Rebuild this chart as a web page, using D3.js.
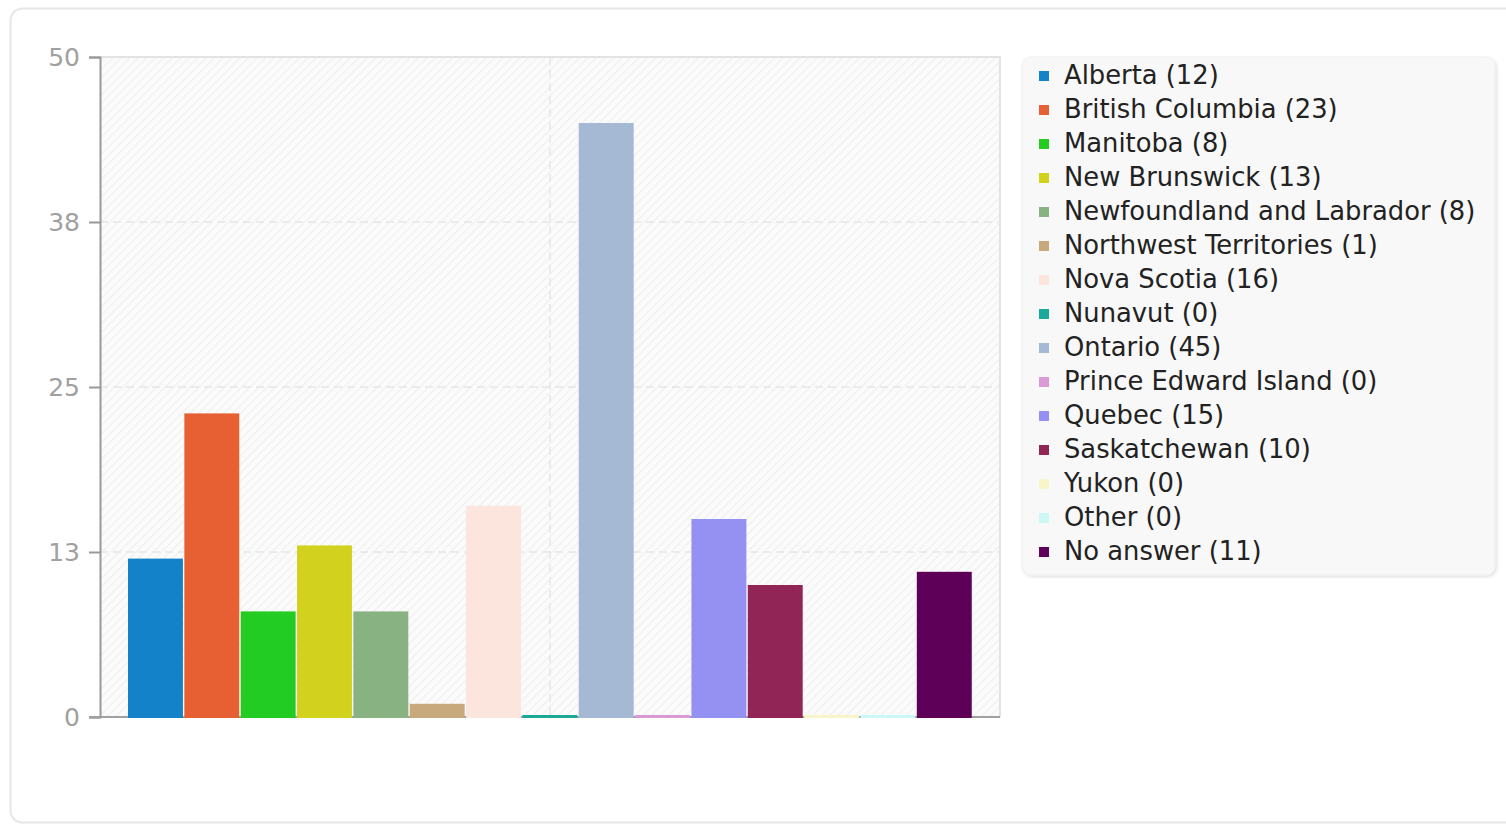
<!DOCTYPE html>
<html>
<head>
<meta charset="utf-8">
<script src="https://cdn.jsdelivr.net/npm/d3@7"></script>
<style>
  html, body { margin: 0; padding: 0; background: #ffffff; }
  svg { display: block; font-family: "DejaVu Sans", Verdana, sans-serif; }
</style>
</head>
<body>
<svg id="chart" width="1506" height="825"></svg>
<script>
const categories = ["Alberta", "British Columbia", "Manitoba", "New Brunswick", "Newfoundland and Labrador",
  "Northwest Territories", "Nova Scotia", "Nunavut", "Ontario", "Prince Edward Island", "Quebec",
  "Saskatchewan", "Yukon", "Other", "No answer"];
const values = [12, 23, 8, 13, 8, 1, 16, 0, 45, 0, 15, 10, 0, 0, 11];
const colors = ["#1482c8", "#e66034", "#22cc22", "#d2d21e", "#88b282", "#c8a97e", "#fbe5dc", "#1aa89a",
  "#a6b9d4", "#d99ad6", "#9591f2", "#912656", "#f8f5c8", "#ccf7f7", "#5e0058"];
const yTicks = [0, 12.5, 25, 37.5, 50];
const yTickLabels = ["0", "13", "25", "38", "50"];

const svg = d3.select("#chart");

// outer card
svg.append("rect").attr("x", 10.5).attr("y", 8.5).attr("width", 1510).attr("height", 814)
  .attr("rx", 12).attr("fill", "#ffffff").attr("stroke", "#e6e6e6").attr("stroke-width", 2);

const plot = { left: 100, right: 1000, top: 57, bottom: 717 };

// hatch pattern
const defs = svg.append("defs");
const pat = defs.append("pattern").attr("id", "hatch").attr("patternUnits", "userSpaceOnUse")
  .attr("width", 6).attr("height", 6).attr("patternTransform", "rotate(45)");
pat.append("rect").attr("width", 6).attr("height", 6).attr("fill", "#fbfbfb");
pat.append("line").attr("x1", 0).attr("y1", 0).attr("x2", 0).attr("y2", 6)
  .attr("stroke", "#efefef").attr("stroke-width", 2.2);

const shadow = defs.append("filter").attr("id", "shadow").attr("x", "-5%").attr("y", "-5%").attr("width", "110%").attr("height", "110%");
shadow.append("feDropShadow").attr("dx", 1.5).attr("dy", 1.5).attr("stdDeviation", 1.5).attr("flood-color", "#000").attr("flood-opacity", 0.12);

svg.append("rect").attr("x", plot.left).attr("y", plot.top)
  .attr("width", plot.right - plot.left).attr("height", plot.bottom - plot.top)
  .attr("fill", "url(#hatch)");

// plot border top/right
svg.append("path")
  .attr("d", `M${plot.left},${plot.top}H${plot.right}V${plot.bottom}`)
  .attr("fill", "none").attr("stroke", "#e3e3e3").attr("stroke-width", 2);

const y = d3.scaleLinear().domain([0, 50]).range([plot.bottom, plot.top]);
const x = d3.scaleBand().domain(categories).range([128, 971.75]).paddingInner(0.025).paddingOuter(0);

// grid lines
svg.append("g").selectAll("line").data(yTicks.filter(t => t > 0 && t < 50)).join("line")
  .attr("x1", plot.left).attr("x2", plot.right)
  .attr("y1", d => y(d)).attr("y2", d => y(d))
  .attr("stroke", "#e6e6e6").attr("stroke-width", 1.5).attr("stroke-dasharray", "8,5");
svg.append("line")
  .attr("x1", (plot.left + plot.right) / 2).attr("x2", (plot.left + plot.right) / 2)
  .attr("y1", plot.top).attr("y2", plot.bottom)
  .attr("stroke", "#e6e6e6").attr("stroke-width", 1.5).attr("stroke-dasharray", "8,5");

// y axis
const yAxis = d3.axisLeft(y).tickValues(yTicks).tickFormat((d, i) => yTickLabels[i]).tickSize(11).tickPadding(9);
const ga = svg.append("g").attr("transform", `translate(${plot.left},0)`).call(yAxis);
ga.select(".domain").attr("stroke", "#999").attr("stroke-width", 2);
ga.selectAll(".tick line").attr("stroke", "#999").attr("stroke-width", 2);
ga.selectAll(".tick text").attr("fill", "#a0a0a0").attr("font-size", 25)
  .attr("font-family", "DejaVu Sans");

// x baseline
svg.append("line").attr("x1", 89).attr("x2", plot.right).attr("y1", y(0)).attr("y2", y(0))
  .attr("stroke", "#a0a0a0").attr("stroke-width", 2);

// bars (drawn over the baseline, as in the original)
svg.append("g").selectAll("rect").data(values).join("rect")
  .attr("x", (d, i) => x(categories[i]))
  .attr("width", x.bandwidth())
  .attr("y", d => Math.min(y(d), y(0) - 2))
  .attr("height", d => Math.max(2, y(0) - y(d)) + 1)
  .attr("fill", (d, i) => colors[i]);

// legend
const lg = svg.append("g");
lg.append("rect").attr("x", 1022).attr("y", 57).attr("width", 473).attr("height", 518)
  .attr("rx", 9).attr("fill", "#f8f8f8").attr("stroke", "#eeeeee").attr("stroke-width", 1)
  .attr("filter", "url(#shadow)");
const rows = lg.selectAll("g.row").data(categories).join("g").attr("class", "row")
  .attr("transform", (d, i) => `translate(0,${84 + i * 34})`);
rows.append("rect").attr("x", 1039).attr("y", -13).attr("width", 10).attr("height", 10)
  .attr("fill", (d, i) => colors[i]);
rows.append("text").attr("x", 1064).attr("y", 0).attr("font-size", 25.8).attr("fill", "#222")
  .text((d, i) => `${d} (${values[i]})`);
</script>
</body>
</html>
